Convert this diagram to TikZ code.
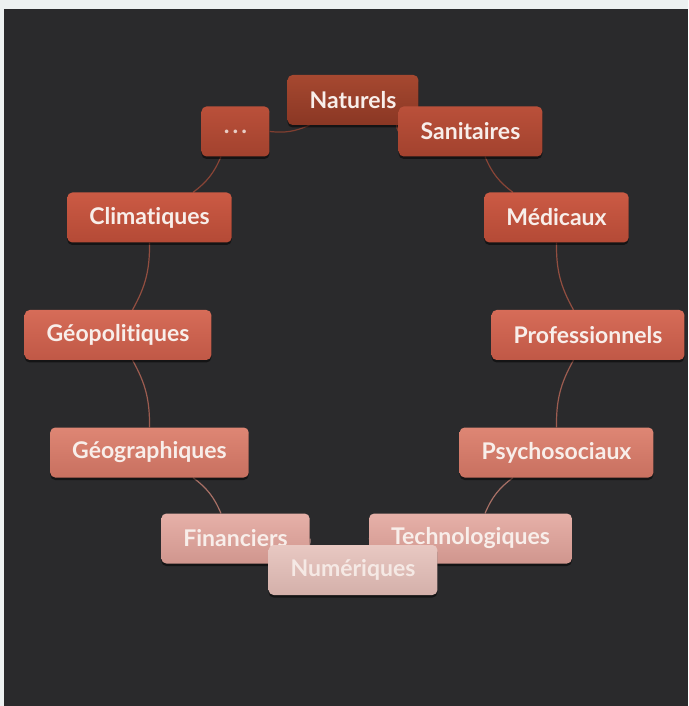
\documentclass[tikz,border=0pt]{standalone}
\usepackage{fontspec}
\setmainfont{Lato}[Ligatures=NoCommon]
\usetikzlibrary{shadows}

\definecolor{paper}{HTML}{EDF1F1}
\definecolor{panel}{HTML}{2A2A2C}
\definecolor{ink}{HTML}{F8EEEA}

\pgfdeclarelayer{background}
\pgfsetlayers{background,main}

\begin{document}
\begin{tikzpicture}[x=1pt,y=1pt,
  font=\fontsize{23}{26}\selectfont\bfseries,
  box/.style={rounded corners=5pt, minimum height=50pt, minimum width=68pt, inner xsep=22pt, text=ink,
    drop shadow={shadow xshift=0pt, shadow yshift=-2.5pt, opacity=.5, fill=black}},
  t0/.style={box, top color={rgb,255:red,166;green,72;blue,48}, bottom color={rgb,255:red,138;green,55;blue,36}},
  t1/.style={box, top color={rgb,255:red,186;green,80;blue,58}, bottom color={rgb,255:red,162;green,66;blue,46}},
  t2/.style={box, top color={rgb,255:red,203;green,90;blue,68}, bottom color={rgb,255:red,180;green,74;blue,54}},
  t3/.style={box, top color={rgb,255:red,214;green,108;blue,88}, bottom color={rgb,255:red,192;green,88;blue,70}},
  t4/.style={box, top color={rgb,255:red,222;green,134;blue,116}, bottom color={rgb,255:red,200;green,112;blue,96}},
  t5/.style={box, top color={rgb,255:red,230;green,176;blue,168}, bottom color={rgb,255:red,208;green,150;blue,142}},
  t6/.style={box, top color={rgb,255:red,232;green,200;blue,194}, bottom color={rgb,255:red,212;green,176;blue,170}, text opacity=.9},
  ring/.style={line width=1.2pt},
]
\useasboundingbox (-353,335) rectangle (335,-371);

% boxes around the ring, top first
\node[t0] (nat) at (90:235) {Naturels};
\node[t1] (san) at (60:235) {Sanitaires};
\node[t2] (med) at (30:235) {Médicaux};
\node[t3] (pro) at (0:235) {Professionnels};
\node[t4] (psy) at (-30:235) {Psychosociaux};
\node[t5] (tec) at (-60:235) {Technologiques};
\node[t1, text opacity=.8] (etc) at (120:235) {\fontsize{24}{26}\selectfont .\kern3pt.\kern3pt.};
\node[t2] (cli) at (150:235) {Climatiques};
\node[t3] (geo) at (180:235) {Géopolitiques};
\node[t4] (gra) at (210:235) {Géographiques};
\node[t5] (fin) at (240:235) {Financiers};
\node[t6] (num) at (270:235) {Numériques};

\begin{pgfonlayer}{background}
\fill[paper] (-353,335) rectangle (335,-371);
\fill[panel] (-349,326) rectangle (335,-371);
\draw[ring, color={rgb,255:red,128;green,62;blue,48}] (nat) to[bend right=15] (san);
\draw[ring, color={rgb,255:red,136;green,68;blue,54}] (san) to[bend right=15] (med);
\draw[ring, color={rgb,255:red,146;green,78;blue,64}] (med) to[bend right=15] (pro);
\draw[ring, color={rgb,255:red,156;green,92;blue,80}] (pro) to[bend right=15] (psy);
\draw[ring, color={rgb,255:red,168;green,112;blue,102}] (psy) to[bend right=15] (tec);
\draw[ring, color={rgb,255:red,180;green,140;blue,134}] (tec) to[bend right=15] (num);
\draw[ring, color={rgb,255:red,128;green,62;blue,48}] (nat) to[bend left=15] (etc);
\draw[ring, color={rgb,255:red,136;green,68;blue,54}] (etc) to[bend left=15] (cli);
\draw[ring, color={rgb,255:red,146;green,78;blue,64}] (cli) to[bend left=15] (geo);
\draw[ring, color={rgb,255:red,156;green,92;blue,80}] (geo) to[bend left=15] (gra);
\draw[ring, color={rgb,255:red,168;green,112;blue,102}] (gra) to[bend left=15] (fin);
\draw[ring, color={rgb,255:red,180;green,140;blue,134}] (fin) to[bend left=15] (num);
\end{pgfonlayer}
\end{tikzpicture}
\end{document}
